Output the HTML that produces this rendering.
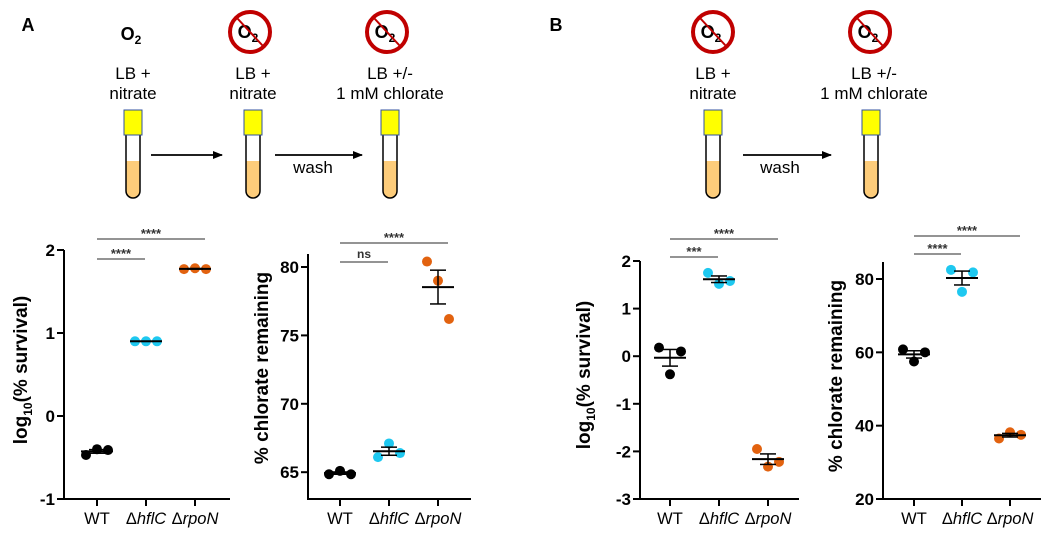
<!DOCTYPE html>
<html><head><meta charset="utf-8">
<style>
body{margin:0;background:#fff;}
svg{display:block;font-family:"Liberation Sans",Arial,sans-serif;}
</style></head>
<body>
<svg id="fig" width="1050" height="537" viewBox="0 0 1050 537" xmlns="http://www.w3.org/2000/svg">
<defs>
<marker id="ah" markerWidth="10" markerHeight="8" refX="9" refY="4" orient="auto" markerUnits="userSpaceOnUse"><path d="M0,0 L10,4 L0,8 Z" fill="#000"/></marker>
</defs>
<g id="schem"></g>
<g id="charts"></g>
</svg>
<script>
// ---- chart data ----
const categories = ["WT", "ΔhflC", "ΔrpoN"];
const aSurvWT = [-0.47, -0.40, -0.41];
const aSurvHfl = [0.90, 0.90, 0.90];
const aSurvRpo = [1.77, 1.78, 1.77];
const aChlWT = [64.85, 65.1, 64.85];
const aChlHfl = [66.1, 67.1, 66.4];
const aChlRpo = [80.4, 79.0, 76.2];
const bSurvWT = [0.18, -0.38, 0.10];
const bSurvHfl = [1.75, 1.52, 1.58];
const bSurvRpo = [-1.95, -2.32, -2.22];
const bChlWT = [60.8, 57.5, 60.0];
const bChlHfl = [82.5, 76.5, 81.8];
const bChlRpo = [36.5, 38.2, 37.5];
const aSurvTicks = [-1, 0, 1, 2];
const aChlTicks = [65, 70, 75, 80];
const bSurvTicks = [-3, -2, -1, 0, 1, 2];
const bChlTicks = [20, 40, 60, 80];
const aSurvSig = ["****", "****"];
const aChlSig = ["ns", "****"];
const bSurvSig = ["***", "****"];
const bChlSig = ["****", "****"];

const NS = "http://www.w3.org/2000/svg";
const colors = ["#000000", "#1ec8f0", "#e2620f"];
function mk(parent, tag, attrs, text) {
  const e = document.createElementNS(NS, tag);
  for (const k in attrs) e.setAttribute(k, attrs[k]);
  if (text !== undefined) e.textContent = text;
  parent.appendChild(e);
  return e;
}
const charts = document.getElementById('charts');

function chart(cfg) {
  const g = mk(charts, 'g', {});
  
  
  const y = v => cfg.y0 + (v - cfg.v0) * (cfg.y1 - cfg.y0) / (cfg.v1 - cfg.v0);
  const x = i => cfg.xs[0] + i * (cfg.xs[1] - cfg.xs[0]);
  const ya = mk(g, 'line', {x1: cfg.ax, x2: cfg.ax, y1: cfg.top, y2: cfg.y0, stroke: '#000', 'stroke-width': 2});
  
  
  const xa = mk(g, 'line', {x1: cfg.ax - 1, x2: cfg.xend, y1: cfg.y0, y2: cfg.y0, stroke: '#000', 'stroke-width': 2});
  
  
  cfg.ticks.forEach(t => {
    mk(g, 'line', {x1: cfg.ax - 7, x2: cfg.ax, y1: y(t), y2: y(t), stroke: '#000', 'stroke-width': 2});
    const tl = mk(g, 'text', {x: cfg.ax - 9, y: y(t) + 6, 'text-anchor': 'end', 'font-size': 17, 'font-weight': 'bold'}, String(t));
    
    
  });
  const yt = mk(g, 'text', {transform: `translate(${cfg.tx},${cfg.ty}) rotate(-90)`, 'text-anchor': 'middle', 'font-size': 19, 'font-weight': 'bold'});
  
  
  if (cfg.log) {
    mk(yt, 'tspan', {}, 'log');
    mk(yt, 'tspan', {'font-size': 12, dy: 5}, '10');
    mk(yt, 'tspan', {dy: -5}, '(% survival)');
  } else yt.textContent = '% chlorate remaining';
  categories.forEach((c, i) => {
    mk(g, 'line', {x1: x(i), x2: x(i), y1: cfg.y0, y2: cfg.y0 + 7, stroke: '#000', 'stroke-width': 2});
    const lab = mk(g, 'text', {x: x(i), y: cfg.y0 + 25, 'text-anchor': 'middle', 'font-size': 16.5});
    
    
    if (i === 0) lab.textContent = c;
    else { mk(lab, 'tspan', {}, 'Δ'); mk(lab, 'tspan', {'font-style': 'italic'}, c.slice(1)); }
  });
  const offs = [-11, 0, 11];
  cfg.series.forEach((s, i) => {
    const n = s.length, m = s.reduce((a, b) => a + b, 0) / n;
    const sd = Math.sqrt(s.reduce((a, b) => a + (b - m) * (b - m), 0) / (n - 1));
    const se = sd / Math.sqrt(n);
    s.forEach((v, j) => {
      const d = mk(g, 'circle', {cx: x(i) + offs[j], cy: y(v), r: 5, fill: colors[i]});
      
      
    });
    const eb = mk(g, 'g', {stroke: '#000', 'stroke-width': 2});
    
    
    mk(eb, 'line', {x1: x(i) - 16, x2: x(i) + 16, y1: y(m), y2: y(m)});
    mk(eb, 'line', {x1: x(i), x2: x(i), y1: y(m - se), y2: y(m + se), 'stroke-width': 1.5});
    mk(eb, 'line', {x1: x(i) - 8, x2: x(i) + 8, y1: y(m - se), y2: y(m - se), 'stroke-width': 1.5});
    mk(eb, 'line', {x1: x(i) - 8, x2: x(i) + 8, y1: y(m + se), y2: y(m + se), 'stroke-width': 1.5});
  });
  const sb = [[x(0), x(1) - 1, cfg.sigY[0]], [x(0), x(2) + 10, cfg.sigY[1]]];
  sb.forEach((b, k) => {
    const l = mk(g, 'line', {x1: b[0], x2: b[1], y1: b[2], y2: b[2], stroke: '#555', 'stroke-width': 1.2});
    
    
    const isNs = cfg.sig[k] === 'ns';
    const t = mk(g, 'text', {x: (b[0] + b[1]) / 2, y: b[2] - (isNs ? 4 : 1), 'text-anchor': 'middle', 'font-size': isNs ? 12 : 13, 'font-weight': 'bold', fill: '#333'}, cfg.sig[k]);
    
    
  });
}
chart({name: 'chart-a-survival', ax: 64, xend: 230, top: 250, y0: 499, v0: -1, y1: 250, v1: 2, xs: [97, 146], ticks: aSurvTicks, series: [aSurvWT, aSurvHfl, aSurvRpo], sig: aSurvSig, sigY: [259, 239], tx: 27, ty: 370, log: true});
chart({name: 'chart-a-chlorate', ax: 308, xend: 471, top: 254, y0: 499, v0: 63.04, y1: 267, v1: 80, xs: [340, 389], ticks: aChlTicks, series: [aChlWT, aChlHfl, aChlRpo], sig: aChlSig, sigY: [262, 243], tx: 268, ty: 368, log: false});
chart({name: 'chart-b-survival', ax: 640, xend: 799, top: 261, y0: 499, v0: -3, y1: 261, v1: 2, xs: [670, 719], ticks: bSurvTicks, series: [bSurvWT, bSurvHfl, bSurvRpo], sig: bSurvSig, sigY: [257, 239], tx: 590, ty: 375, log: true});
chart({name: 'chart-b-chlorate', ax: 883, xend: 1041, top: 262, y0: 499, v0: 20, y1: 279, v1: 80, xs: [914, 962], ticks: bChlTicks, series: [bChlWT, bChlHfl, bChlRpo], sig: bChlSig, sigY: [254, 236], tx: 842, ty: 376, log: false});

// ---- schematic ----
const sc = document.getElementById('schem');
function txt(x, y, s, size, bold, name) {
  const t = mk(sc, 'text', {x: x, y: y, 'text-anchor': 'middle', 'font-size': size, 'font-weight': bold ? 'bold' : 'normal'}, s);
  
  
  return t;
}
function o2(x, y, crossed) {
  const g = mk(sc, 'g', {});
  
  
  const t = mk(g, 'text', {x: x - 2, y: y + 6, 'text-anchor': 'middle', 'font-size': 18, 'font-weight': 'bold'});
  mk(t, 'tspan', {}, 'O');
  mk(t, 'tspan', {'font-size': 12, dy: 4}, '2');
  if (crossed) {
    mk(g, 'circle', {cx: x, cy: y, r: 20, fill: 'none', stroke: '#c00000', 'stroke-width': 4});
    mk(g, 'line', {x1: x - 13, y1: y - 14, x2: x + 13, y2: y + 14, stroke: '#c00000', 'stroke-width': 2});
  }
}
function tube(cx) {
  const g = mk(sc, 'g', {});
  
  
  mk(g, 'path', {d: `M${cx-7},161 L${cx+7},161 L${cx+7},191 A7,7 0 0 1 ${cx-7},191 Z`, fill: '#fdcc7a'});
  mk(g, 'path', {d: `M${cx-7},135 L${cx-7},191 A7,7 0 0 0 ${cx+7},191 L${cx+7},135`, fill: 'none', stroke: '#000', 'stroke-width': 1.5});
  mk(g, 'rect', {x: cx - 9, y: 110, width: 18, height: 25, fill: '#ffff00', stroke: '#3050a0', 'stroke-width': 1});
}
function arrow(x1, x2, y) {
  const a = mk(sc, 'line', {x1: x1, x2: x2, y1: y, y2: y, stroke: '#000', 'stroke-width': 1.8, 'marker-end': 'url(#ah)'});
  
  
}
txt(28, 31, 'A', 18, true, 'panel-label-a');
txt(556, 31, 'B', 18, true, 'panel-label-b');
o2(133, 34, false); o2(250, 32, true); o2(387, 32, true); o2(713, 32, true); o2(870, 32, true);
txt(133, 79, 'LB +', 17, false, 'medium-label'); txt(133, 99, 'nitrate', 17, false, 'medium-label');
txt(253, 79, 'LB +', 17, false, 'medium-label'); txt(253, 99, 'nitrate', 17, false, 'medium-label');
txt(390, 79, 'LB +/-', 17, false, 'medium-label'); txt(390, 99, '1 mM chlorate', 17, false, 'medium-label');
txt(713, 79, 'LB +', 17, false, 'medium-label'); txt(713, 99, 'nitrate', 17, false, 'medium-label');
txt(874, 79, 'LB +/-', 17, false, 'medium-label'); txt(874, 99, '1 mM chlorate', 17, false, 'medium-label');
tube(133); tube(253); tube(390); tube(713); tube(871);
arrow(151, 222, 155); arrow(275, 362, 155); arrow(743, 831, 155);
txt(313, 173, 'wash', 17, false, 'wash-label');
txt(780, 173, 'wash', 17, false, 'wash-label');
</script>
</body></html>
